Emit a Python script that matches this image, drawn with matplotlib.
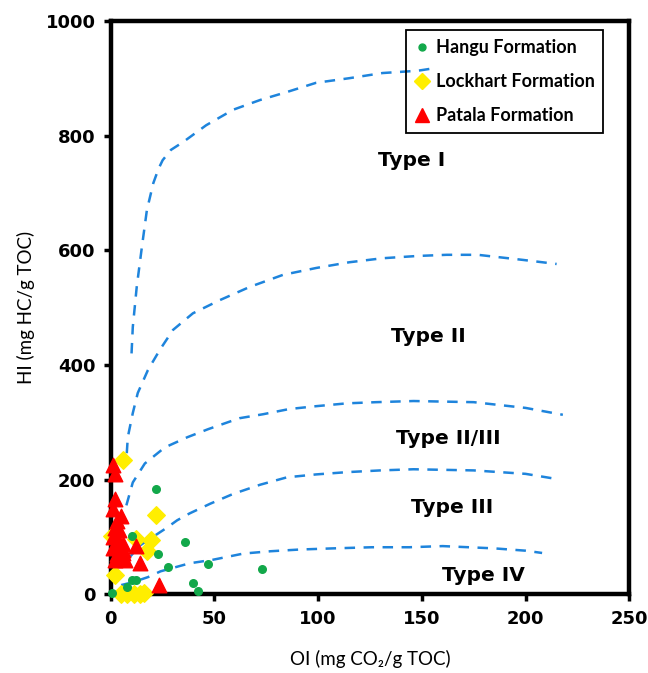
import numpy as np
import matplotlib
matplotlib.use('Agg')
from matplotlib import pyplot as plt
from matplotlib.lines import Line2D

# Sample data, OI vs HI
hangu_oi = [0.5, 7.8, 10.0, 12.3, 10.0, 21.7, 22.8, 27.6, 35.7, 46.8, 73.0, 39.6, 42.0]
hangu_hi = [2, 13, 24, 24, 102, 183, 71, 48, 91, 52, 44, 19, 5]

lockhart_oi = [6.0, 22.0, 0.5, 12.0, 19.5, 17.5, 2.0, 5.0, 8.0, 11.0, 14.0, 16.0]
lockhart_hi = [234, 138, 101, 97, 94, 76, 33, 1, 1, 1, 1, 2]

patala_oi = [1, 2, 2, 1, 5, 3, 2, 4, 1, 4, 6, 1, 6, 3, 6, 2, 7, 12, 14, 23]
patala_hi = [226, 210, 166, 148, 137, 128, 115, 112, 100, 92, 88, 80, 78, 70, 72, 60, 60, 84, 55, 16]

# Kerogen type boundaries
type1_oi = [10.0, 10.6, 12.5, 15.0, 17.4, 20.5, 23, 25, 29, 35, 46, 59, 72, 85, 99, 115, 131, 148, 157]
type1_hi = [420, 466, 536, 606, 670, 717, 742, 757, 775, 789, 818, 845, 862, 876, 892, 900, 909, 913, 918]

type2_oi = [7.7, 8.2, 10.6, 13.0, 17.9, 23.6, 30, 39.6, 52.6, 67, 83, 99, 115, 131, 148, 162, 177, 199, 215]
type2_hi = [246, 274, 316, 351, 391, 426, 461, 490, 513, 536, 557, 569, 579, 586, 590, 592, 592, 583, 576]

type23_oi = [7.5, 10.6, 16.4, 26, 37, 47, 62, 73.5, 86, 99, 114, 128, 146, 175, 200, 218]
type23_hi = [155, 195, 228, 256, 274, 288, 307, 314, 323, 328, 333, 335, 337, 335, 325, 313]

type3_oi = [8, 14, 27, 32, 38, 48, 59, 72, 85, 99, 114, 130, 146, 175, 200, 215]
type3_hi = [60, 85, 116, 129, 141, 158, 175, 191, 204, 209, 213, 216, 218, 216, 210, 201]

type4_oi = [5, 10.6, 18, 24, 38, 49, 64, 77, 91, 107, 126, 144, 160, 185, 200, 208]
type4_hi = [16, 21, 30, 40, 54, 60, 71, 75, 78, 80, 82, 82, 84, 80, 76, 72]

type_names = ['Type I', 'Type II', 'Type II/III', 'Type III', 'Type IV']
type_x = [145, 153, 163, 164.5, 179.5]
type_y = [757, 450, 272, 152, 33]

boundaries = [(type1_oi, type1_hi), (type2_oi, type2_hi), (type23_oi, type23_hi),
              (type3_oi, type3_hi), (type4_oi, type4_hi)]

fig = plt.figure(figsize=(6.48, 6.73), dpi=100)
ax = fig.add_axes([0.171, 0.117, 0.8, 0.852])

blue = '#1e84dc'
for oi, hi in boundaries:
    ax.plot(oi, hi, color=blue, lw=1.8, linestyle=(0, (4.2, 3.4)), zorder=2)

ax.scatter(hangu_oi, hangu_hi, s=30, marker='o', color='#12a84a', zorder=4, clip_on=False)
ax.scatter(lockhart_oi, lockhart_hi, s=80, marker='D', color='#ffee00', zorder=3, clip_on=False)
ax.scatter(patala_oi, patala_hi, s=110, marker='^', color='#ff0000', zorder=5, clip_on=False)

for name, x, y in zip(type_names, type_x, type_y):
    ax.text(x, y, name, ha='center', va='center', fontsize=14.5,
            fontweight='bold', family='DejaVu Sans')

ax.set_xlim(0, 250)
ax.set_ylim(0, 1000)
ax.set_xticks(np.arange(0, 251, 50))
ax.set_yticks(np.arange(0, 1001, 200))
for s in ax.spines.values():
    s.set_linewidth(3.2)
    s.set_color('black')
ax.tick_params(direction='out', length=5, width=2.5, labelsize=13, pad=6)
for lab in ax.get_xticklabels() + ax.get_yticklabels():
    lab.set_fontweight('bold')
    lab.set_family('DejaVu Sans')

ax.set_xlabel('OI (mg CO\u2082/g TOC)', fontsize=13.5, family=['Lato', 'DejaVu Sans'], labelpad=16)
ax.set_ylabel('HI (mg HC/g TOC)', fontsize=13.5, family='Lato', labelpad=2)
ax.yaxis.set_label_coords(-0.147, 0.5)

handles = [
    Line2D([], [], marker='o', color='#12a84a', ls='none', markersize=5),
    Line2D([], [], marker='D', color='#ffee00', ls='none', markersize=8),
    Line2D([], [], marker='^', color='#ff0000', ls='none', markersize=10),
]
labels = ['Hangu Formation', 'Lockhart Formation', 'Patala Formation']
leg = ax.legend(handles, labels, loc='upper left', bbox_to_anchor=(0.569, 0.984),
                borderaxespad=0, fancybox=False, edgecolor='black',
                prop={'family': 'Lato', 'weight': 'bold', 'size': 13},
                labelspacing=0.95, handlelength=0.8, handletextpad=0.35, borderpad=0.5)
leg.get_frame().set_facecolor('none')
leg.get_frame().set_alpha(None)
leg.get_frame().set_linewidth(1.3)

fig.savefig('out.png', dpi=100)
